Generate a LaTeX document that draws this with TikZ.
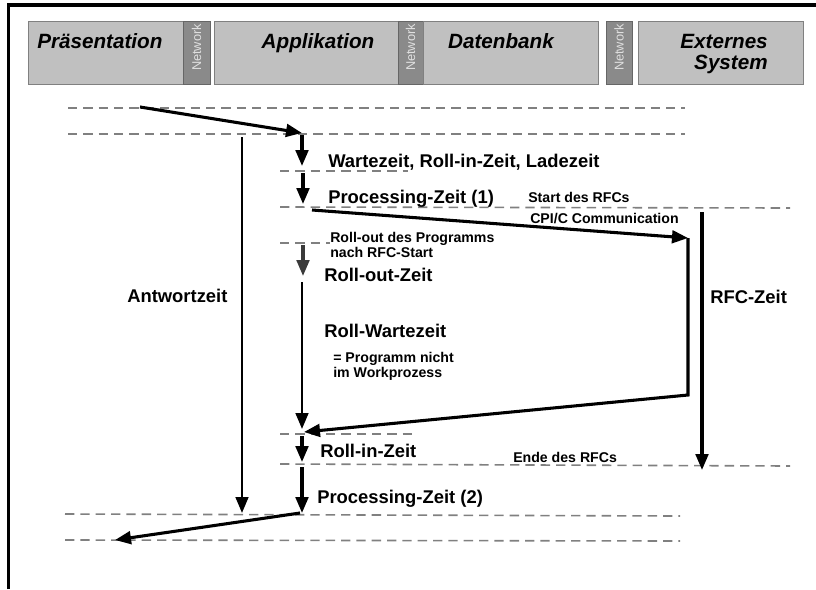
\documentclass[tikz,border=0pt]{standalone}
\usepackage{fontspec}
\setmainfont{Liberation Sans}
\usetikzlibrary{arrows.meta}
\definecolor{boxgray}{HTML}{C0C0C0}
\definecolor{netgray}{HTML}{8A8A8A}
\definecolor{dashgray}{HTML}{808080}
\definecolor{darkarr}{HTML}{3A3A3A}
\begin{document}
\begin{tikzpicture}[x=0.75pt,y=-0.75pt,
  tier/.style={fill=boxgray, draw=black!50, line width=0.6pt},
  net/.style={fill=netgray, draw=black!60, line width=0.6pt},
  nettext/.style={rotate=90, text=black!12, inner sep=0pt, font=\fontsize{9.6}{10}\selectfont},
  tiertext/.style={font=\fontsize{15.5}{15.75}\selectfont\bfseries\itshape, inner sep=0pt},
  dl/.style={draw=dashgray, line width=1.2pt, dash pattern=on 7pt off 4.5pt},
  big/.style={font=\fontsize{13.8}{15}\selectfont\bfseries, inner sep=0pt, anchor=base west},
  small/.style={font=\fontsize{10.6}{11.25}\selectfont\bfseries, inner sep=0pt, anchor=base west, align=left},
  arr/.style={line width=2.3pt, -{Triangle[length=12pt,width=9.5pt]}},
  thinarr/.style={line width=2pt, -{Triangle[length=12pt,width=9.5pt]}},
]
\useasboundingbox (0,0) rectangle (816,589);

% frame
\draw[line width=2.3pt] (8.5,589) -- (8.5,5) -- (816,5);

% header tiers
\path[tier] (28,21) rectangle (183,84);
\path[net] (183,21) rectangle (210,84);
\path[tier] (214,21) rectangle (398,84);
\path[net] (398,21) rectangle (423,84);
\path[tier] (423,21) rectangle (598,84);
\path[net] (606,21) rectangle (632,84);
\path[tier] (638,21) rectangle (803,84);

\node[tiertext, anchor=base west] (praes) at (37,48) {Präsentation};
\node[tiertext, anchor=base] (appl) at (318,48) {Applikation};
\node[tiertext, anchor=base] (daten) at (501,48) {Datenbank};
\node[tiertext, anchor=north east, align=right] (ext) at (768,34) {Externes\\System};
\node[nettext] (net1) at (196.5,47.5) {Network};
\node[nettext] (net2) at (410.5,47.5) {Network};
\node[nettext] (net3) at (619,47.5) {Network};

% dashed time lines
\draw[dl] (68,108) -- (685,108);
\draw[dl] (68,134) -- (685,134);
\draw[dl] (280,171) -- (408,171);
\draw[dl] (280,207) -- (790,208);
\draw[dl] (280,243) -- (330,243);
\draw[dl] (280,434) -- (417,434);
\draw[dl] (280,464) -- (790,466);
\draw[dl] (65,514) -- (680,516);
\draw[dl] (65,540) -- (680,541);

% coordinates
\coordinate (reqS) at (140,107);
\coordinate (reqE) at (302,133);
\coordinate (antS) at (242,137);
\coordinate (antE) at (242,513);
\coordinate (c1S) at (302,135);
\coordinate (c1E) at (302,166);
\coordinate (c2S) at (303,173);
\coordinate (c2E) at (303,204);
\coordinate (rfcS) at (312,210);
\coordinate (rfcE) at (688,238);
\coordinate (rfcB) at (688,395);
\coordinate (retE) at (304,432);
\coordinate (c3S) at (303,245);
\coordinate (c3E) at (303,276);
\coordinate (c4S) at (302,282);
\coordinate (c4E) at (302,429);
\coordinate (c5S) at (302,436);
\coordinate (c5E) at (302,462);
\coordinate (c6S) at (302,467);
\coordinate (c6E) at (302,513);
\coordinate (resS) at (300,513);
\coordinate (resE) at (115,540);
\coordinate (rzS) at (702,212);
\coordinate (rzE) at (702,470);

% arrows
\draw[arr] (reqS) -- (reqE);
\draw[thinarr] (antS) -- (antE);
\draw[arr] (c1S) -- (c1E);
\draw[arr] (c2S) -- (c2E);
\draw[arr] (rfcS) -- (rfcE);
\draw[arr, line join=miter] (rfcE) -- (rfcB) -- (retE);
\draw[arr, draw=darkarr, fill=darkarr] (c3S) -- (c3E);
\draw[thinarr] (c4S) -- (c4E);
\draw[arr] (c5S) -- (c5E);
\draw[arr] (c6S) -- (c6E);
\draw[arr] (resS) -- (resE);
\draw[arr] (rzS) -- (rzE);

% labels
\node[big] (l1) at (328,167) {Wartezeit, Roll-in-Zeit, Ladezeit};
\node[big] (l2) at (328,203) {Processing-Zeit (1)};
\node[small] (s1) at (528,202) {Start des RFCs};
\node[small] (s2) at (530,223) {CPI/C Communication};
\node[small, anchor=north west] (s3) at (330,231.5) {Roll-out des Programms\\nach RFC-Start};
\node[big] (l3) at (324,281) {Roll-out-Zeit};
\node[big] (l4) at (324,337) {Roll-Wartezeit};
\node[small, anchor=north west] (s4) at (333,351.5) {= Programm nicht\\im Workprozess};
\node[big] (l5) at (320,457) {Roll-in-Zeit};
\node[small] (s5) at (513,462) {Ende des RFCs};
\node[big] (l6) at (317,503) {Processing-Zeit (2)};
\node[big] (l7) at (127,302) {Antwortzeit};
\node[big] (l8) at (710,303) {RFC-Zeit};
\end{tikzpicture}
\end{document}
